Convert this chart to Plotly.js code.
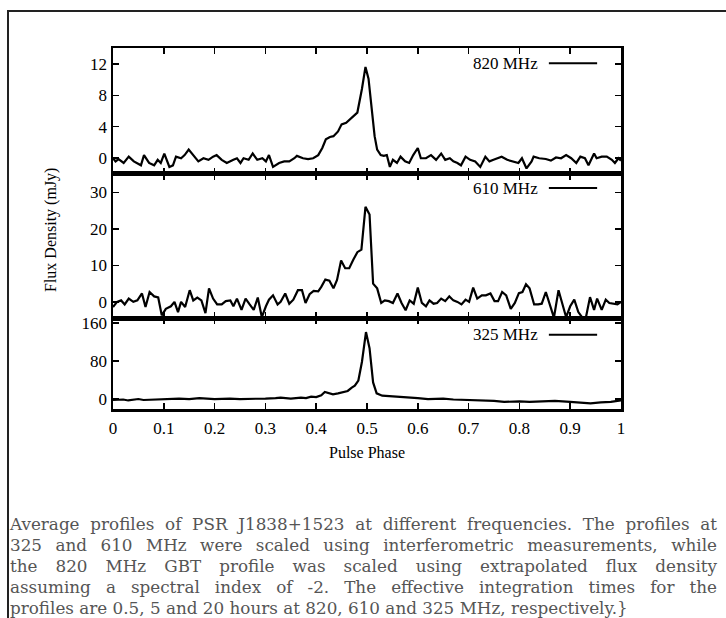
<!DOCTYPE html>
<html>
<head>
<meta charset="utf-8">
<script src="https://cdn.plot.ly/plotly-3.0.1.min.js"></script>
<style>
  html, body { margin: 0; padding: 0; background: #fff; }
  #wrap { position: relative; width: 726px; height: 618px; overflow: hidden; }
  #chart { position: absolute; left: 0; top: 0; width: 726px; height: 618px; }
  #frame { position: absolute; left: 7px; top: 10px; width: 730px; height: 620px;
           border-top: 2px solid #222; border-left: 2px solid #222; pointer-events: none; }
  #caption { position: absolute; left: 10px; top: 514px; width: 707px;
             font-family: "DejaVu Serif", serif; font-size: 16.8px; line-height: 21px; color: #555; }
  #caption div { text-align: justify; text-align-last: justify; white-space: nowrap; }
  #caption div.last { text-align-last: left; }
</style>
</head>
<body>
<div id="wrap">
  <div id="chart"></div>
  <div id="frame"></div>
  <div id="caption"></div>
</div>
<script>
// ---- data ----
const phase820 = [0,0.005,0.011,0.021,0.031,0.041,0.055,0.061,0.071,0.081,0.088,0.094,0.101,0.111,0.118,0.124,0.134,0.141,0.149,0.158,
  0.168,0.178,0.188,0.197,0.204,0.214,0.224,0.237,0.244,0.251,0.257,0.267,0.275,0.284,0.294,0.301,0.307,0.315,0.327,0.337,
  0.347,0.357,0.362,0.374,0.384,0.394,0.404,0.412,0.419,0.427,0.434,0.443,0.45,0.459,0.467,0.475,0.481,0.49,0.497,0.503,
  0.509,0.515,0.52,0.527,0.533,0.539,0.545,0.551,0.559,0.566,0.575,0.583,0.591,0.6,0.606,0.616,0.626,0.636,0.646,0.654,
  0.663,0.67,0.678,0.685,0.694,0.703,0.713,0.723,0.733,0.741,0.749,0.765,0.776,0.786,0.798,0.805,0.814,0.824,0.828,0.839,
  0.852,0.862,0.872,0.882,0.892,0.902,0.912,0.92,0.929,0.936,0.947,0.952,0.962,0.972,0.982,0.988,0.995,1];
const flux820 = [0,-0.4,-0.1,-0.6,0.2,-0.4,-0.9,0.4,-0.6,-0.9,-0.2,-0.6,0.6,-1.1,-0.9,0.2,0,0.4,1.1,0.4,
  -0.4,0,-0.2,0.2,0.4,-0.2,-0.6,-0.2,0,-0.6,0,-0.2,0.6,-0.2,0,-0.4,0.4,-1.1,-0.6,-0.4,
  -0.4,0,0.3,0,-0.1,0,0.4,1.3,2.4,2.7,2.8,3.4,4.3,4.5,5.0,5.4,5.8,8.8,11.6,10.1,
  6.7,2.8,1.1,0.4,0.3,0.4,-1.1,-0.2,-0.6,0.2,-0.4,-0.6,0.4,1.3,0,0,0.4,-0.2,0.6,-0.2,
  0,-0.4,-0.6,-0.9,0.2,-0.2,-0.4,-1.1,0.2,-0.4,-0.2,0.2,-0.2,-0.4,-0.6,0,-1.3,-0.4,0.2,0,
  -0.1,-0.3,0.1,0,0.4,0,-0.6,0.2,0,-0.9,0.6,0,0.2,0.2,-0.2,-0.6,0,-0.3];

const phase610 = [0,0.008,0.016,0.023,0.031,0.040,0.048,0.057,0.064,0.072,0.081,0.089,0.096,0.104,0.114,0.121,0.128,0.134,0.142,0.151,
  0.158,0.166,0.174,0.182,0.189,0.197,0.205,0.214,0.222,0.231,0.237,0.244,0.253,0.261,0.269,0.277,0.285,0.293,0.301,0.307,
  0.315,0.324,0.330,0.339,0.347,0.355,0.364,0.372,0.379,0.387,0.395,0.404,0.410,0.418,0.426,0.434,0.441,0.449,0.457,0.465,
  0.473,0.481,0.489,0.497,0.505,0.512,0.520,0.528,0.535,0.543,0.551,0.560,0.568,0.576,0.584,0.592,0.600,0.608,0.616,0.623,
  0.631,0.638,0.646,0.654,0.662,0.670,0.678,0.686,0.694,0.701,0.709,0.717,0.726,0.734,0.743,0.751,0.758,0.766,0.774,0.783,
  0.791,0.799,0.806,0.813,0.820,0.829,0.837,0.844,0.852,0.860,0.868,0.877,0.884,0.892,0.900,0.908,0.916,0.924,0.931,0.939,
  0.947,0.953,0.962,0.970,0.977,0.985,0.993,1];
const flux610 = [-1.4,0,0.4,-0.7,0.9,0,0.4,2.3,-1.4,2.7,1.5,1.2,-3.7,-1.9,-1.2,0,-2.8,0,-1.4,3.2,
  0.4,1.2,0.4,-3.1,3.7,0.9,-0.7,-0.7,0.2,0.4,-1.2,0.9,-2.2,0.9,-0.7,-2.2,1.2,-4.2,-1.2,0.6,
  1.8,-0.7,0,2.3,-0.5,0.6,3.2,3.2,-0.3,2.1,3.0,2.9,4.1,6.1,5.8,3.7,6.0,11.3,9.2,9.2,
  11.5,13.6,14.3,26.0,23.9,5.0,3.7,-0.3,0.4,0.2,-0.3,2.3,-0.3,-2.3,0.4,-0.5,3.9,-0.3,-1.2,0.4,
  -0.5,-0.3,0.9,0.2,1.5,0.4,0,-0.7,0.6,0,3.9,0.9,1.8,1.8,2.3,0.2,0.2,2.7,1.8,-1.9,
  -0.3,2.4,2.7,4.8,3.7,-0.7,-0.7,-0.5,2.7,-0.5,-4.3,3.2,0,-4.2,-1.2,0.6,-2.8,-4.3,-4.2,1.3,
  -2.2,0.9,-2.2,0.6,-0.3,-0.5,-0.7,0];

const phase325 = [0,0.02,0.03,0.05,0.06,0.08,0.1,0.13,0.15,0.17,0.2,0.23,0.25,0.27,0.3,0.32,0.33,0.35,0.37,0.38,
  0.39,0.4,0.41,0.417,0.425,0.433,0.443,0.453,0.462,0.47,0.476,0.483,0.49,0.498,0.505,0.512,0.519,0.53,0.55,0.57,
  0.6,0.62,0.65,0.67,0.7,0.72,0.75,0.77,0.8,0.82,0.85,0.87,0.9,0.92,0.94,0.96,0.98,1];
const flux325 = [-2,-1,-3,0,-2,-1,0,1,0,2,0,1,0,0,1,2,3,1,3,2,
  5,4,8,15,12,10,12,15,17,24,28,39,78,141,107,35,12,7,6,4,
  2,0,1,-1,-2,-3,-4,-6,-5,-6,-5,-4,-6,-8,-9,-7,-6,-3];

const seriesNames = ["820 MHz", "610 MHz", "325 MHz"];
const xTickVals = [0,0.1,0.2,0.3,0.4,0.5,0.6,0.7,0.8,0.9,1];
const yTicks820 = [0,4,8,12];
const yTicks610 = [0,10,20,30];
const yTicks325 = [0,80,160];
const captionLines = [
  "Average profiles of PSR J1838+1523 at different frequencies.  The profiles at",
  "325 and 610 MHz were scaled using interferometric  measurements, while",
  "the 820 MHz GBT profile was scaled using  extrapolated flux density",
  "assuming a spectral index of -2. The effective integration times for the",
  "profiles are 0.5, 5 and  20 hours at 820, 610 and 325 MHz, respectively.}"
];

// ---- chart ----
const FONT = "Liberation Serif, Times New Roman, serif";
const FS = 17;
const lineStyle = {color: "#000", width: 2.2};
const traces = [
  {x: phase820, y: flux820, xaxis: "x3", yaxis: "y", mode: "lines", line: lineStyle, name: seriesNames[0], showlegend: false},
  {x: phase610, y: flux610, xaxis: "x2", yaxis: "y2", mode: "lines", line: lineStyle, name: seriesNames[1], showlegend: false},
  {x: phase325, y: flux325, xaxis: "x", yaxis: "y3", mode: "lines", line: lineStyle, name: seriesNames[2], showlegend: false}
];

function xAxis(anchor, labels) {
  return {anchor: anchor, range: [0, 1], tickvals: xTickVals, ticks: "inside", ticklen: 6, tickwidth: 1.5,
    tickcolor: "#000", showline: true, linewidth: 2.5, linecolor: "#000", mirror: "ticks",
    showgrid: false, zeroline: false, showticklabels: labels, ticklabelstandoff: 2,
    tickfont: {family: FONT, size: FS, color: "#000"}, fixedrange: true};
}
function yAxis(anchor, domain, range, tv) {
  return {anchor: anchor, domain: domain, range: range, tickvals: tv, ticks: "inside", ticklen: 6, tickwidth: 1.5,
    tickcolor: "#000", showline: true, linewidth: 2.5, linecolor: "#000", mirror: "ticks",
    showgrid: false, zeroline: false, ticklabelstandoff: 0,
    tickfont: {family: FONT, size: FS, color: "#000"}, fixedrange: true};
}

const legY = [0.958, 0.612, 0.206];
const annotations = seriesNames.map((n, i) => ({
  text: n, xref: "paper", yref: "paper", x: 0.8406, y: legY[i], xanchor: "right", yanchor: "middle",
  showarrow: false, font: {family: FONT, size: FS, color: "#000"}
}));
annotations.push({text: "Pulse Phase", xref: "paper", yref: "paper", x: 0.5, y: (409 - 452) / 361,
  xanchor: "center", yanchor: "middle", showarrow: false, font: {family: FONT, size: 16, color: "#000"}});
annotations.push({text: "Flux Density (mJy)", xref: "paper", yref: "paper", x: (51 - 113) / 508, y: (409 - 230) / 361,
  xanchor: "center", yanchor: "middle", textangle: -90, showarrow: false, font: {family: FONT, size: 16, color: "#000"}});

const shapes = legY.map(y => ({type: "line", xref: "paper", yref: "paper", x0: 0.858, x1: 0.953, y0: y, y1: y,
  line: {color: "#000", width: 2}}));

const layout = {
  width: 726, height: 618, margin: {l: 113, r: 105, t: 48, b: 209, pad: 0},
  paper_bgcolor: "rgba(0,0,0,0)", plot_bgcolor: "rgba(0,0,0,0)", showlegend: false,
  xaxis: xAxis("y3", true),
  xaxis2: xAxis("y2", false),
  xaxis3: xAxis("y", false),
  yaxis: yAxis("x3", [0.651, 1], [-2, 14], yTicks820),
  yaxis2: yAxis("x2", [0.2512, 0.651], [-4.5, 35], yTicks610),
  yaxis3: yAxis("x", [0, 0.2512], [-21, 170], yTicks325),
  annotations: annotations, shapes: shapes
};

Plotly.newPlot("chart", traces, layout, {staticPlot: true, displayModeBar: false});

const cap = document.getElementById("caption");
captionLines.forEach((t, i) => {
  const d = document.createElement("div");
  d.textContent = t;
  if (i === captionLines.length - 1) d.className = "last";
  cap.appendChild(d);
});
</script>
</body>
</html>
